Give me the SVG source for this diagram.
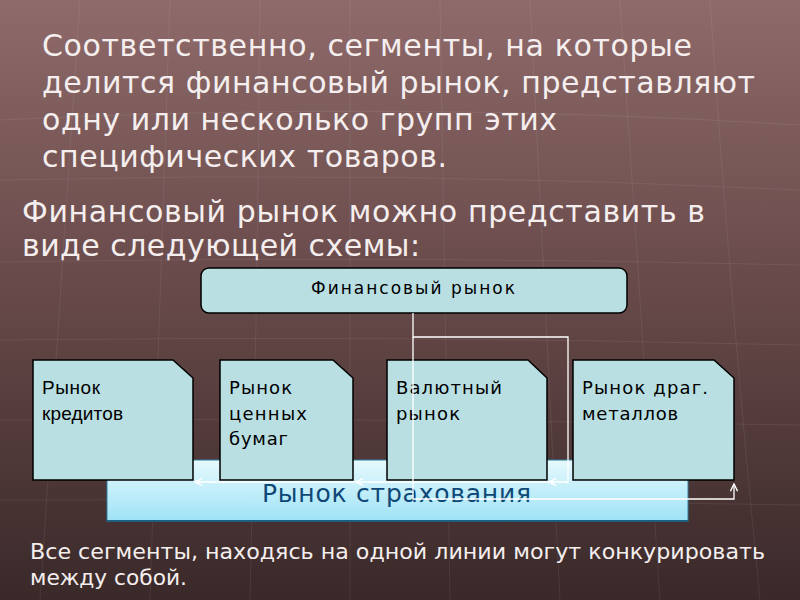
<svg xmlns="http://www.w3.org/2000/svg" width="800" height="600" viewBox="0 0 800 600">
<defs>
<linearGradient id="bg" x1="0" y1="0" x2="0" y2="1">
<stop offset="0" stop-color="#8f6a6a"/>
<stop offset="0.45" stop-color="#6a4b4b"/>
<stop offset="1" stop-color="#3a2929"/>
</linearGradient>
<linearGradient id="ins" x1="0" y1="0" x2="0" y2="1">
<stop offset="0" stop-color="#e6f9fd"/>
<stop offset="1" stop-color="#9fe3f6"/>
</linearGradient>
<marker id="ahe" viewBox="0 0 10 10" refX="9" refY="5" markerWidth="9" markerHeight="9" orient="auto" markerUnits="userSpaceOnUse">
<path d="M1,1 L9,5 L1,9" fill="none" stroke="#ffffff" stroke-width="1.6"/>
</marker>
</defs>
<style>
.title{font-family:"DejaVu Sans",sans-serif;font-size:30px;fill:#f5eeee}
.node{fill:#b9dfe2;stroke:#000;stroke-width:1.5}
.lbl{font-family:"DejaVu Sans",sans-serif;font-size:18px;fill:#000}
.lbl1{font-family:"Liberation Sans",sans-serif;font-size:19px;fill:#000}
.conn{fill:none;stroke:#ffffff;stroke-width:1.3}
.grid{stroke:#ffffff;stroke-opacity:0.07;stroke-width:1;fill:none}
.foot{font-family:"DejaVu Sans",sans-serif;font-stretch:condensed;font-size:22px;fill:#f5eeee}
</style>
<rect x="0" y="0" width="800" height="600" fill="url(#bg)"/>
<g class="grid">
<path d="M0,120 Q400,100 800,125"/>
<path d="M0,180 Q400,170 800,190"/>
<path d="M0,262 Q400,255 800,265"/>
<path d="M0,340 Q400,335 800,345"/>
<path d="M0,420 Q400,418 800,425"/>
<path d="M0,500 Q400,498 800,505"/>
<path d="M80,0 Q60,300 40,600"/>
<path d="M170,0 Q160,300 150,600"/>
<path d="M260,0 Q258,300 250,600"/>
<path d="M350,0 L350,600"/>
<path d="M440,0 Q445,300 450,600"/>
<path d="M530,0 Q545,300 560,600"/>
<path d="M620,0 Q640,300 660,600"/>
<path d="M710,0 Q730,300 760,600"/>
</g>
<g id="text-top">
<text class="title" x="42" y="56" textLength="650" lengthAdjust="spacing">Соответственно, сегменты, на которые</text>
<text class="title" x="42" y="93" textLength="713" lengthAdjust="spacing">делится финансовый рынок, представляют</text>
<text class="title" x="42" y="130" textLength="515" lengthAdjust="spacing">одну или несколько групп этих</text>
<text class="title" x="42" y="167" textLength="405" lengthAdjust="spacing">специфических товаров.</text>
<text class="title" x="22" y="222" textLength="683" lengthAdjust="spacing">Финансовый рынок можно представить в</text>
<text class="title" x="22" y="256" textLength="398" lengthAdjust="spacing">виде следующей схемы:</text>
</g>
<g id="insurance">
<rect x="107" y="460" width="581" height="61" fill="url(#ins)" stroke="#2f7fa0" stroke-width="1"/>
<line x1="107" y1="521" x2="688" y2="521" stroke="#1d5f7e" stroke-width="2"/>
<text x="262" y="502" textLength="269" lengthAdjust="spacing" style="font-family:'DejaVu Sans',sans-serif;font-size:25px;fill:#0f4876">Рынок страхования</text>
</g>
<g id="fin-market">
<rect x="201" y="268" width="426" height="45" rx="8" class="node"/>
<text class="lbl" x="311" y="294" textLength="204" lengthAdjust="spacing" style="font-size:17px">Финансовый рынок</text>
</g>
<g id="credit">
<path class="node" d="M33,360 H173 L193,378 V480 H33 Z"/>
<text class="lbl1" x="42" y="394" textLength="58" lengthAdjust="spacing">Рынок</text>
<text class="lbl1" x="42" y="420" textLength="81" lengthAdjust="spacing">кредитов</text>
</g>
<g id="securities">
<path class="node" d="M220,360 H333 L353,378 V480 H220 Z"/>
<text class="lbl" x="229" y="394" textLength="63" lengthAdjust="spacing">Рынок</text>
<text class="lbl" x="229" y="420" textLength="78" lengthAdjust="spacing">ценных</text>
<text class="lbl" x="229" y="445" textLength="59" lengthAdjust="spacing">бумаг</text>
</g>
<g id="currency">
<path class="node" d="M387,360 H528 L547,378 V480 H387 Z"/>
<text class="lbl" x="396" y="394" textLength="106" lengthAdjust="spacing">Валютный</text>
<text class="lbl" x="396" y="420" textLength="64" lengthAdjust="spacing">рынок</text>
</g>
<g id="metals">
<path class="node" d="M573,360 H714 L734,378 V480 H573 Z"/>
<text class="lbl" x="582" y="394" textLength="126" lengthAdjust="spacing">Рынок драг.</text>
<text class="lbl" x="582" y="420" textLength="96" lengthAdjust="spacing">металлов</text>
</g>
<g id="connectors">
<path class="conn" d="M413,313 V337 H568 V482 H549" marker-end="url(#ahe)"/>
<path class="conn" d="M549,482 H356" marker-end="url(#ahe)"/>
<path class="conn" d="M356,482 H195" marker-end="url(#ahe)"/>
<path class="conn" d="M413,337 V499 H734 V484" marker-end="url(#ahe)"/>
</g>
<g id="text-bottom">
<text class="foot" x="30" y="559" textLength="735" lengthAdjust="spacingAndGlyphs">Все сегменты, находясь на одной линии могут конкурировать</text>
<text class="foot" x="30" y="585" textLength="157" lengthAdjust="spacingAndGlyphs">между собой.</text>
</g>
</svg>
